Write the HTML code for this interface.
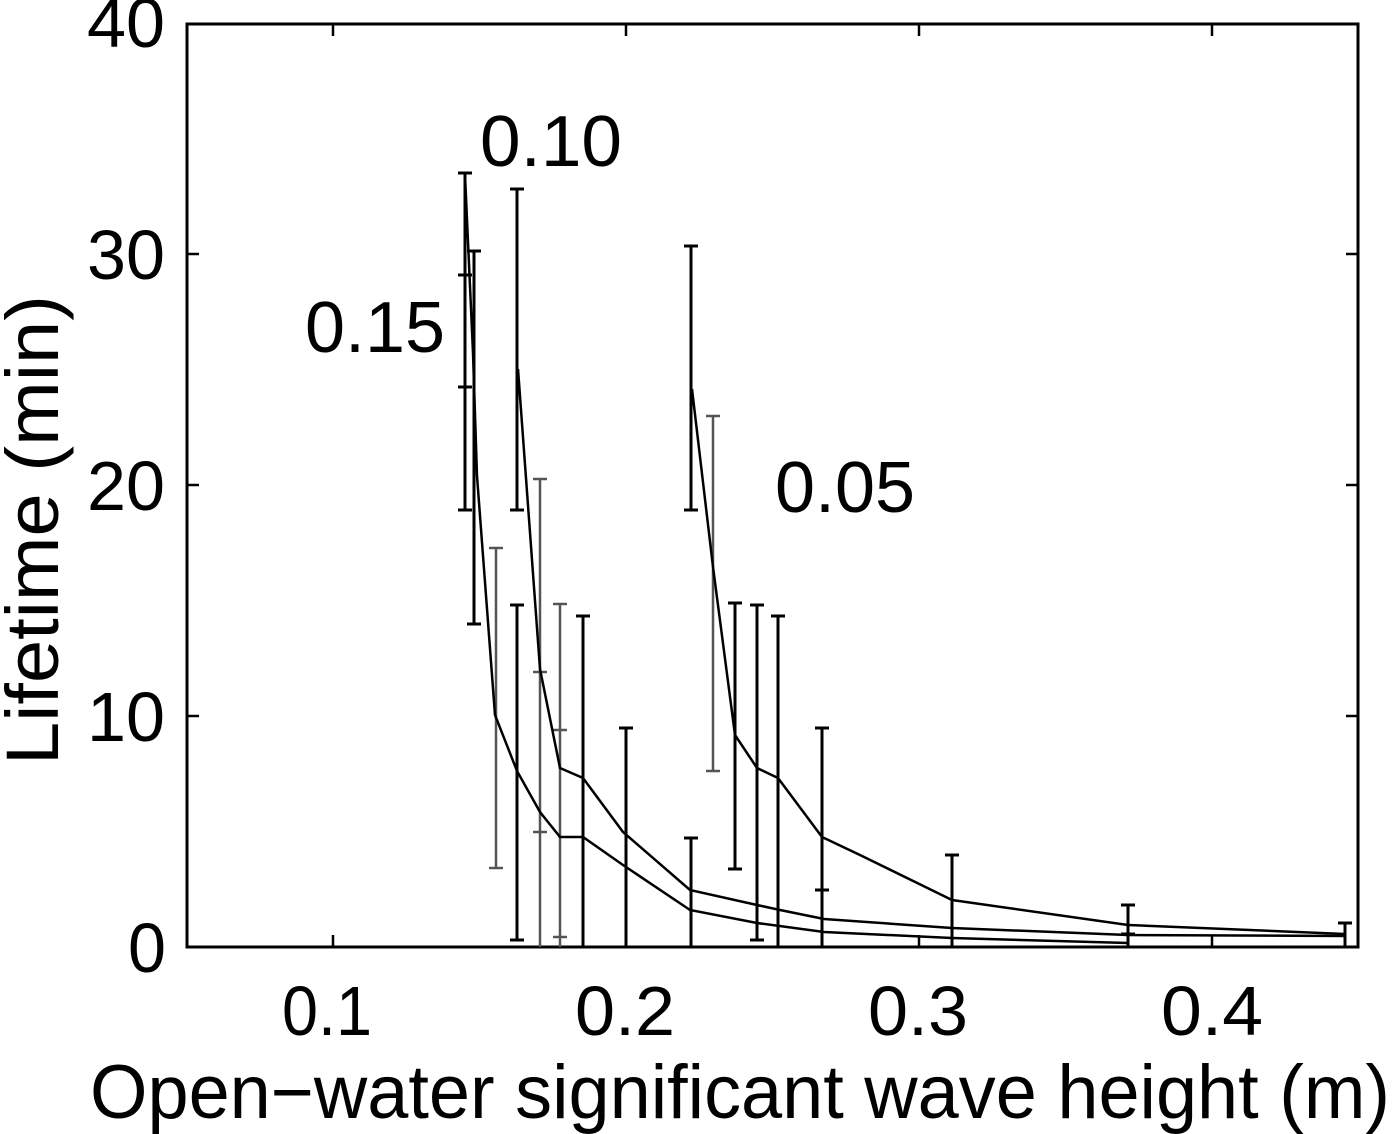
<!DOCTYPE html>
<html><head><meta charset="utf-8"><style>
html,body{margin:0;padding:0;background:#fff}
svg{display:block}
text{font-family:"Liberation Sans",Arial,sans-serif;fill:#000}
</style></head><body>
<svg width="1400" height="1134" viewBox="0 0 1400 1134" xmlns="http://www.w3.org/2000/svg">
<rect width="1400" height="1134" fill="#fff"/>
<!-- axes box -->
<rect x="187" y="24" width="1171" height="923" fill="none" stroke="#000" stroke-width="3"/>
<!-- ticks -->
<g stroke="#000" stroke-width="2.5">
<line x1="333" y1="947" x2="333" y2="935"/><line x1="626" y1="947" x2="626" y2="935"/><line x1="919" y1="947" x2="919" y2="935"/><line x1="1212" y1="947" x2="1212" y2="935"/>
<line x1="333" y1="24" x2="333" y2="36"/><line x1="626" y1="24" x2="626" y2="36"/><line x1="919" y1="24" x2="919" y2="36"/><line x1="1212" y1="24" x2="1212" y2="36"/>
<line x1="187" y1="716" x2="199" y2="716"/><line x1="187" y1="485" x2="199" y2="485"/><line x1="187" y1="254" x2="199" y2="254"/>
<line x1="1358" y1="716" x2="1346" y2="716"/><line x1="1358" y1="485" x2="1346" y2="485"/><line x1="1358" y1="254" x2="1346" y2="254"/>
</g>
<!-- tick labels -->
<g font-size="70">
<text x="87" y="47" textLength="78" lengthAdjust="spacingAndGlyphs">40</text>
<text x="87" y="279" textLength="78" lengthAdjust="spacingAndGlyphs">30</text>
<text x="87" y="510" textLength="78" lengthAdjust="spacingAndGlyphs">20</text>
<text x="87" y="741" textLength="78" lengthAdjust="spacingAndGlyphs">10</text>
<text x="128" y="972" textLength="38" lengthAdjust="spacingAndGlyphs">0</text>
<text x="282" y="1035" textLength="90" lengthAdjust="spacingAndGlyphs">0.1</text>
<text x="575" y="1035" textLength="100" lengthAdjust="spacingAndGlyphs">0.2</text>
<text x="868" y="1035" textLength="100" lengthAdjust="spacingAndGlyphs">0.3</text>
<text x="1161" y="1035" textLength="102" lengthAdjust="spacingAndGlyphs">0.4</text>
</g>
<text x="90" y="1118" font-size="76" textLength="1300" lengthAdjust="spacingAndGlyphs">Open−water significant wave height (m)</text>
<text transform="translate(58,765) rotate(-90)" font-size="74" textLength="470" lengthAdjust="spacingAndGlyphs">Lifetime (min)</text>
<!-- curve labels -->
<g font-size="72">
<text x="480" y="166" textLength="142" lengthAdjust="spacingAndGlyphs">0.10</text>
<text x="305" y="352" textLength="140" lengthAdjust="spacingAndGlyphs">0.15</text>
<text x="775" y="512" textLength="140" lengthAdjust="spacingAndGlyphs">0.05</text>
</g>
<!-- error bars -->
<g stroke="#000" stroke-width="3" fill="none">
<path d="M465 173V510M458 173H472M458 510H472M458 275H472M458 387H472"/>
<path d="M474 251V624M467 251H481M467 624H481"/>
<path d="M517 189V510M510 189H524M510 510H524"/>
<path d="M517 605V940M510 605H524M510 940H524"/>
<path d="M583 616V947M576 616H590"/>
<path d="M626 728V947M619 728H633"/>
<path d="M691 246V510M684 246H698M684 510H698"/>
<path d="M691 838V947M684 838H698"/>
<path d="M735 603V869M728 603H742M728 869H742"/>
<path d="M757 605V940M750 605H764M750 940H764"/>
<path d="M778 616V947M771 616H785"/>
<path d="M822 728V947M815 728H829M815 890H829"/>
<path d="M952 855V947M945 855H959"/>
<path d="M1128 905V947M1121 905H1135M1121 934H1135"/>
<path d="M1345 923V947M1338 923H1352"/>
</g>
<g stroke="#555" stroke-width="2.5" fill="none">
<path d="M496 548V868M489 548H503M489 868H503"/>
<path d="M540 479V947M533 479H547M533 672H547M533 832H547"/>
<path d="M560 604V947M553 604H567M553 937H567M553 730H567"/>
<path d="M713 416V771M706 416H720M706 771H720"/>
</g>
<!-- curves -->
<g stroke="#000" stroke-width="2.5" fill="none">
<polyline points="465,175 473,353 477,476 495,715 517,771 540,812 560,837 583,837 623,865 690,910 757,923 824,932 952,938 1128,943"/>
<polyline points="518,369 540,669 560,768 583,778 623,832 690,890 757,905 780,910 824,919 952,928 1128,935 1345,936"/>
<polyline points="692,389 713,567 735,735 757,768 778,778 822,837 860,855 952,900 1128,925 1345,934"/>
</g>
</svg>
</body></html>
